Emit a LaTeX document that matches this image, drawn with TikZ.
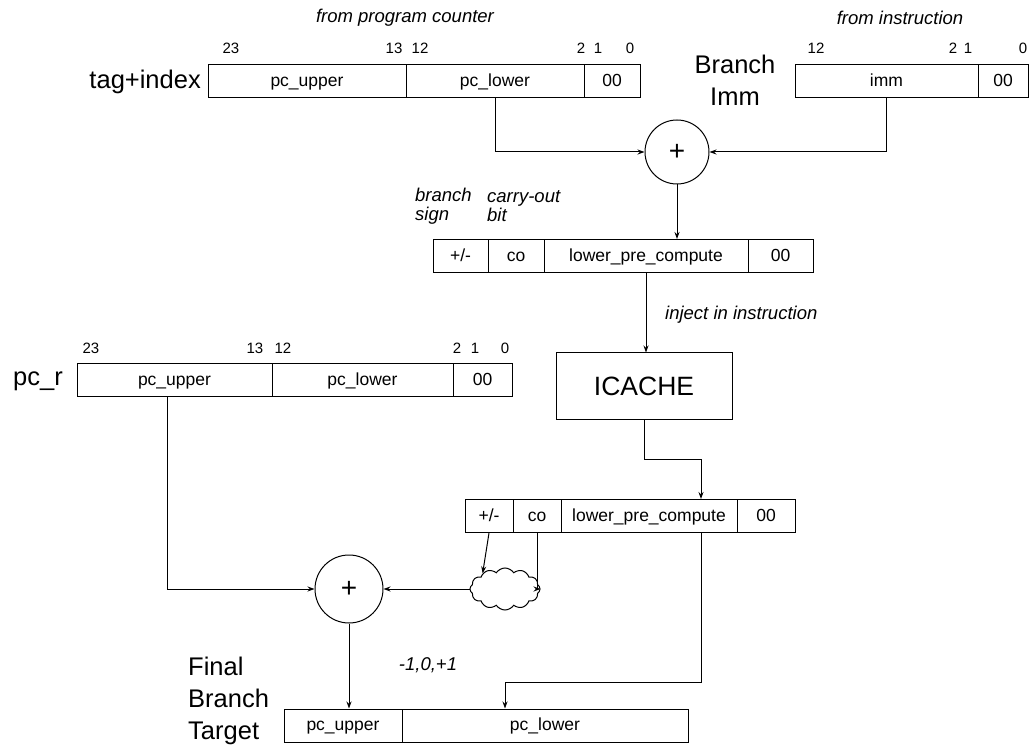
\documentclass[tikz,border=0pt]{standalone}
\usepackage{fontspec}
\setmainfont{Liberation Sans}
\usetikzlibrary{arrows.meta,shapes.symbols,calc}

\newcommand{\fsbox}{\fontsize{17.5}{20}\selectfont}
\newcommand{\fsbit}{\fontsize{15}{17}\selectfont}
\newcommand{\fsnote}{\fontsize{18.5}{19}\selectfont\itshape}
\newcommand{\fsbig}{\fontsize{25.5}{32}\selectfont}

\tikzset{
  field/.style={draw, line width=1pt, minimum height=33pt, inner sep=0pt,
                text height=12.5pt, text depth=2pt, font=\fsbox},
  bit/.style={font=\fsbit, inner sep=0pt},
  note/.style={font=\fsnote, inner sep=0pt, align=left},
  big/.style={font=\fsbig, inner sep=0pt},
  adder/.style={draw, circle, line width=1pt, minimum size=#1, inner sep=0pt, font=\fontsize{28}{28}\selectfont},
  wire/.style={line width=1pt, -{Stealth[length=7pt,width=5pt]}},
}

\begin{document}
\begin{tikzpicture}[x=1pt,y=-1pt]
\useasboundingbox (0,0) rectangle (1029,751);

% ---- register from program counter ----
\node[note] (fpc) at (405,18) {from program counter};
\node[big, anchor=east] (ti) at (201,82) {tag+index};
\node[field, minimum width=198pt] (tu) at (307,81.5) {pc\_upper};
\node[field, minimum width=178pt] (tl) at (495,81.5) {pc\_lower};
\node[field, minimum width=56pt]  (t0) at (612,81.5) {00};
\node[bit] (b1) at (231,48) {23};
\node[bit] (b2) at (394,48) {13};
\node[bit] (b3) at (420,48) {12};
\node[bit] (b4) at (581,48) {2};
\node[bit] (b5) at (598,48) {1};
\node[bit] (b6) at (630,48) {0};

% ---- branch immediate from instruction ----
\node[note] (fin) at (900,18) {from instruction};
\node[big, align=center] (bi) at (735,80) {Branch\\Imm};
\node[field, minimum width=183pt] (im) at (886.5,81.5) {imm};
\node[field, minimum width=50pt]  (i0) at (1003,81.5) {00};
\node[bit] (c1) at (816,48) {12};
\node[bit] (c2) at (953,48) {2};
\node[bit] (c3) at (968,48) {1};
\node[bit] (c4) at (1023,48) {0};

% ---- first adder ----
\node[adder=64pt] (a1) at (677,152) {+};
\draw[wire] (tl.south) |- (a1.west);
\draw[wire] (im.south) |- (a1.east);

% ---- pre-computed lower part ----
\node[note, anchor=west] (bs) at (415,206.5) {branch\\sign};
\node[note, anchor=west] (co) at (487,206.5) {carry-out\\bit};
\node[field, minimum width=55pt]  (r2s) at (460.5,256) {+/-};
\node[field, minimum width=56pt]  (r2c) at (516,256) {co};
\node[field, minimum width=204pt] (r2l) at (646,256) {lower\_pre\_compute};
\node[field, minimum width=65pt]  (r2z) at (780.5,256) {00};
\draw[wire] (a1.south) -- (a1.south |- r2l.north);

% ---- instruction cache ----
\node[note, anchor=west] (inj) at (665,315) {inject in instruction};
\node[draw, line width=1pt, minimum width=176pt, minimum height=67pt, inner sep=0pt,
      font=\fontsize{26.5}{26}\selectfont] (ic) at (644,386.5) {ICACHE};
\draw[wire] (r2l.south) -- (r2l.south |- ic.north);

% ---- current pc register ----
\node[big] (pcr) at (38,381) {pc\_r};
\node[field, minimum width=195pt] (pu) at (174.5,380.5) {pc\_upper};
\node[field, minimum width=181pt] (pl) at (362.5,380.5) {pc\_lower};
\node[field, minimum width=59pt]  (p0) at (482.5,380.5) {00};
\node[bit] (d1) at (91,348) {23};
\node[bit] (d2) at (255,348) {13};
\node[bit] (d3) at (283,348) {12};
\node[bit] (d4) at (457,348) {2};
\node[bit] (d5) at (475,348) {1};
\node[bit] (d6) at (505,348) {0};

% ---- fetched pre-computed fields ----
\node[field, minimum width=48pt]  (r3s) at (489,516) {+/-};
\node[field, minimum width=48pt]  (r3c) at (537,516) {co};
\node[field, minimum width=176pt] (r3l) at (649,516) {lower\_pre\_compute};
\node[field, minimum width=58pt]  (r3z) at (766,516) {00};
\coordinate (k1) at (701,460);
\draw[wire] (ic.south) |- (k1) -- (k1 |- r3l.north);

% ---- increment selection and second adder ----
\node[cloud, draw, line width=1pt, cloud puffs=12, cloud puff arc=115, aspect=1.7,
      minimum width=70pt, minimum height=42pt, inner sep=0pt] (cl) at (505,589) {};
\node[adder=68pt] (a2) at (349,589) {+};
\draw[wire] (r3s.south) -- (cl.145);
\draw[wire] (r3c.south) |- (cl.east);
\draw[wire] (cl.west) -- (a2.east);
\draw[wire] ([xshift=-7.5pt]pu.south) |- (a2.west);
\node[note] (inc) at (428,665) {-1,0,+1};

% ---- final branch target ----
\node[big, anchor=north west, align=left] (fbt) at (188,657) {Final\\Branch\\Target};
\node[field, minimum width=118pt] (fu) at (343,725.5) {pc\_upper};
\node[field, minimum width=286pt] (fl) at (545,725.5) {pc\_lower};
\draw[wire] (a2.south) -- (a2.south |- fu.north);
\coordinate (k2) at (701,682);
\coordinate (k3) at (505,682);
\draw[wire] (k2 |- r3l.south) -- (k2) -- (k3) -- (k3 |- fl.north);
\end{tikzpicture}
\end{document}
